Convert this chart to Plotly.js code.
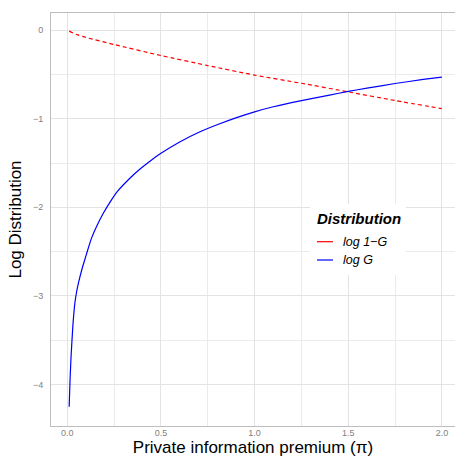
<!DOCTYPE html>
<html>
<head>
<meta charset="utf-8">
<script src="https://cdn.plot.ly/plotly-3.0.1.min.js"></script>
<style>html,body{margin:0;padding:0;background:#fff;}#chart{width:455px;height:457px;}</style>
</head>
<body>
<div id="chart"></div>
<script>
// log(1-G) series (red dashed)
const premiumRed = [0.01, 0.05, 0.1, 0.25, 0.5, 0.75, 1.0, 1.25, 1.5, 1.75, 2.0];
const logOneMinusG = [-0.012, -0.05, -0.083, -0.163, -0.287, -0.40, -0.508, -0.60, -0.697, -0.795, -0.886];
// log(G) series (blue solid)
const premiumBlue = [0.01, 0.015, 0.02, 0.03, 0.04, 0.05, 0.06, 0.08, 0.1, 0.115, 0.13, 0.16, 0.19, 0.23, 0.27, 0.33, 0.39, 0.45, 0.5, 0.6, 0.7, 0.8, 0.9, 1.0, 1.1, 1.25, 1.4, 1.5, 1.6, 1.75, 1.9, 2.0];
const logG = [-4.25, -3.93, -3.69, -3.33, -3.09, -2.95, -2.85, -2.685, -2.545, -2.44, -2.345, -2.2, -2.075, -1.935, -1.815, -1.68, -1.565, -1.465, -1.39, -1.262, -1.155, -1.068, -0.99, -0.922, -0.865, -0.795, -0.733, -0.692, -0.655, -0.603, -0.557, -0.53];
const seriesNames = ["log 1\u2212G", "log G"];
const seriesColors = ["#ff0000", "#0000ff"];
const legendTitle = "Distribution";

const FONT = "Liberation Sans, Arial, sans-serif";

const traces = [
  {x: premiumRed, y: logOneMinusG, type: "scatter", mode: "lines", name: seriesNames[0],
   line: {color: seriesColors[0], width: 1.2, dash: "4px,3px", shape: "spline", smoothing: 0.6}, showlegend: false},
  {x: premiumBlue, y: logG, type: "scatter", mode: "lines", name: seriesNames[1],
   line: {color: seriesColors[1], width: 1.2, shape: "spline", smoothing: 0.5}, showlegend: false}
];

// custom legend geometry (paper coords)
const L = 51, T = 13, B = 31, W = 455 - L, H = 457 - T - B;
const px = v => (v - L) / W;
const py = v => (457 - B - v) / H;

const shapes = [
  {type: "rect", xref: "paper", yref: "paper", x0: px(310), x1: px(406), y0: py(275), y1: py(204),
   fillcolor: "#ffffff", line: {width: 0}, layer: "above"},
  {type: "line", xref: "paper", yref: "paper", x0: px(317), x1: px(333), y0: py(241.7), y1: py(241.7),
   line: {color: seriesColors[0], width: 1.2}, layer: "above"},
  {type: "line", xref: "paper", yref: "paper", x0: px(317), x1: px(333), y0: py(260), y1: py(260),
   line: {color: seriesColors[1], width: 1.2}, layer: "above"}
];
const annotations = [
  {xref: "paper", yref: "paper", x: px(315), y: py(218.5), xanchor: "left", yanchor: "middle", showarrow: false,
   text: "<b><i>" + legendTitle + "</i></b>", font: {family: FONT, size: 15, color: "#000"}},
  {xref: "paper", yref: "paper", x: px(341), y: py(241.7), xanchor: "left", yanchor: "middle", showarrow: false,
   text: "<i>" + seriesNames[0] + "</i>", font: {family: FONT, size: 12.5, color: "#000"}},
  {xref: "paper", yref: "paper", x: px(341), y: py(260), xanchor: "left", yanchor: "middle", showarrow: false,
   text: "<i>" + seriesNames[1] + "</i>", font: {family: FONT, size: 12.5, color: "#000"}}
];

const layout = {
  width: 455, height: 457,
  margin: {l: L, r: 0, t: T, b: B},
  paper_bgcolor: "#ffffff", plot_bgcolor: "#ffffff",
  font: {family: FONT},
  showlegend: false,
  xaxis: {
    range: [-0.087, 2.07], tick0: 0, dtick: 0.5, tickformat: ".1f",
    showgrid: true, gridcolor: "#e3e3e3", gridwidth: 1,
    minor: {tick0: 0, dtick: 0.25, showgrid: true, gridcolor: "#ebebeb", gridwidth: 1},
    zeroline: false, showline: true, mirror: true, linecolor: "#bdbdbd", linewidth: 1,
    ticks: "", ticklabelstandoff: -2, tickfont: {family: FONT, size: 9, color: "#7f7f7f"},
    title: {text: "Private information premium (\u03c0)", font: {family: FONT, size: 17, color: "#000"}, standoff: 4},
    automargin: false
  },
  yaxis: {
    range: [-4.468, 0.193], tick0: 0, dtick: 1,
    showgrid: true, gridcolor: "#e3e3e3", gridwidth: 1,
    minor: {tick0: 0, dtick: 0.5, showgrid: true, gridcolor: "#ebebeb", gridwidth: 1},
    zeroline: false, showline: true, linecolor: "#bdbdbd", linewidth: 1,
    ticks: "", ticklabelstandoff: 5, tickfont: {family: FONT, size: 9, color: "#7f7f7f"},
    title: {text: "Log Distribution", font: {family: FONT, size: 17, color: "#000"}, standoff: 6},
    automargin: false
  },
  shapes: shapes,
  annotations: annotations
};

Plotly.newPlot("chart", traces, layout, {staticPlot: true, displayModeBar: false});
</script>
</body>
</html>
